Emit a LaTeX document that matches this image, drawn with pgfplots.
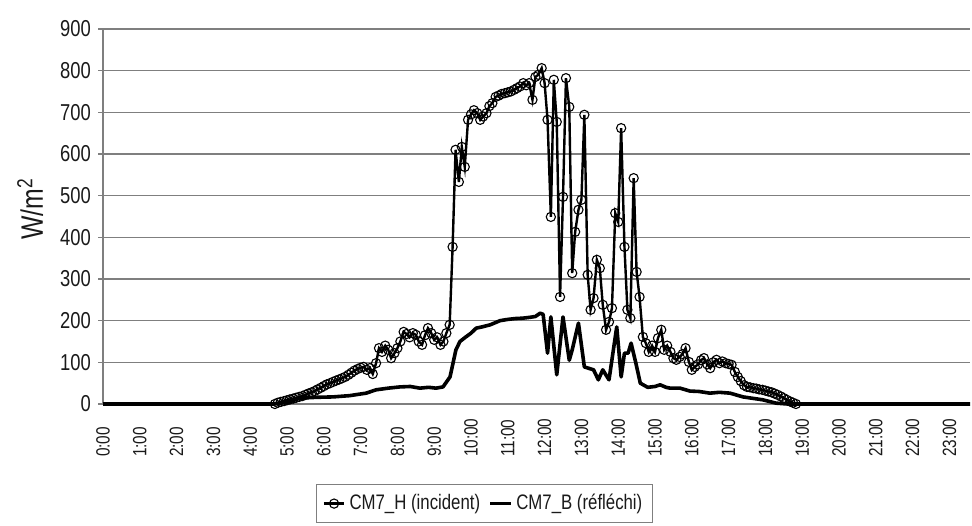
\documentclass[border=0pt]{standalone}
\usepackage{fontspec}
\setmainfont{Liberation Sans}[FakeStretch=0.8]
\usepackage{pgfplots}
\pgfplotsset{compat=1.18}
\definecolor{gridc}{HTML}{7F7F7F}
\definecolor{txt}{HTML}{1A1A1A}
\begin{document}
\begin{tikzpicture}
\begin{axis}[
  scale only axis, width=433.5pt, height=187.5pt,
  xmin=0, xmax=23.56, ymin=0, ymax=900,
  clip=false,
  axis y line*=left, axis x line*=bottom,
  axis line style={gridc, line width=0.6pt},
  ytick={0,100,...,900},
  ymajorgrids, grid style={gridc, line width=0.6pt},
  xtick={0,...,23},
  xticklabels={0:00,1:00,2:00,3:00,4:00,5:00,6:00,7:00,8:00,9:00,10:00,11:00,12:00,13:00,14:00,15:00,16:00,17:00,18:00,19:00,20:00,21:00,22:00,23:00},
  xtick style={draw=none},
  ytick style={gridc, line width=0.6pt},
  tick align=outside, major tick length=2.5pt,
  /pgf/number format/assume math mode=true,
  yticklabel style={font=\fontsize{11.5}{13}\selectfont, text=txt},
  xticklabel style={yshift=-27.5pt, rotate=90, anchor=west, font=\fontsize{9.6}{11}\selectfont, text=txt},
  ylabel={W/m\textsuperscript{2}},
  every axis y label/.append style={at={(rel axis cs:-0.084,0.52)}, anchor=center, font=\fontsize{15.5}{17}\selectfont, text=txt},
  legend style={at={(rel axis cs:0.44,-0.213)}, anchor=north, legend columns=2,
    draw=gridc, line width=0.5pt, font=\fontsize{10.5}{12}\selectfont, text=txt, inner sep=3pt,
    /tikz/every even column/.append style={column sep=2pt}},
  legend image code/.code={\draw[mark repeat=2,mark phase=2,#1] plot coordinates {(0cm,0cm) (0.18cm,0cm) (0.36cm,0cm)};},
]
\path (rel axis cs:-0.1188,-0.3253) rectangle (rel axis cs:1.0023,1.0773);
\addplot[black, line width=1.2pt, mark=o, mark size=2.3pt, mark options={fill=white, line width=0.55pt}] coordinates {
(4.67,0)(4.75,3)(4.83,5)(4.92,7)(5.00,9)(5.08,11)(5.17,13)(5.25,15)(5.33,17)(5.42,19)
(5.50,22)(5.58,25)(5.67,28)(5.75,31)(5.83,35)(5.92,39)(6.00,43)(6.08,47)(6.17,50)(6.25,53)
(6.33,56)(6.42,59)(6.50,62)(6.58,65)(6.67,70)(6.75,75)(6.83,80)(6.92,84)(7.00,87)(7.08,89)
(7.17,82)(7.25,86)(7.33,72)(7.42,98)(7.50,134)(7.58,125)(7.67,140)(7.75,130)(7.83,110)(7.92,122)
(8.00,134)(8.08,150)(8.17,173)(8.25,168)(8.33,160)(8.42,170)(8.50,166)(8.58,150)(8.67,142)(8.75,165)
(8.83,182)(8.92,170)(9.00,154)(9.08,160)(9.17,142)(9.25,150)(9.33,170)(9.42,190)(9.50,377)(9.58,610)
(9.67,533)(9.75,617)(9.83,569)(9.92,682)(10.00,695)(10.08,705)(10.17,698)(10.25,682)(10.33,690)(10.42,698)
(10.50,715)(10.58,722)(10.67,737)(10.75,740)(10.83,744)(10.92,746)(11.00,748)(11.08,750)(11.17,754)(11.25,758)
(11.33,762)(11.42,770)(11.50,765)(11.58,770)(11.67,730)(11.75,785)(11.83,790)(11.92,806)(12.00,770)(12.08,682)
(12.17,449)(12.25,778)(12.33,677)(12.42,257)(12.50,497)(12.58,782)(12.67,713)(12.75,314)(12.83,413)(12.92,466)
(13.00,490)(13.08,694)(13.17,310)(13.25,226)(13.33,254)(13.42,346)(13.50,326)(13.58,238)(13.67,178)(13.75,197)
(13.83,230)(13.92,458)(14.00,437)(14.08,662)(14.17,377)(14.25,226)(14.33,206)(14.42,542)(14.50,317)(14.58,257)
(14.67,161)(14.75,146)(14.83,125)(14.92,140)(15.00,125)(15.08,158)(15.17,178)(15.25,130)(15.33,140)(15.42,125)
(15.50,110)(15.58,106)(15.67,113)(15.75,120)(15.83,134)(15.92,101)(16.00,82)(16.08,89)(16.17,95)(16.25,105)
(16.33,110)(16.42,95)(16.50,86)(16.58,100)(16.67,106)(16.75,98)(16.83,102)(16.92,98)(17.00,96)(17.08,94)
(17.17,77)(17.25,65)(17.33,55)(17.42,45)(17.50,41)(17.58,40)(17.67,38)(17.75,37)(17.83,35)(17.92,34)
(18.00,32)(18.08,30)(18.17,28)(18.25,25)(18.33,22)(18.42,18)(18.50,14)(18.58,10)(18.67,6)(18.75,3)(18.83,0)
};
\addlegendentry{CM7\_H (incident)}
\addplot[black, line width=1.8pt, line join=round] coordinates {
(0,0)(4.67,0)(5.00,5)(5.35,14)(5.80,16)(6.25,17)(6.70,20)(7.15,26)(7.42,34)(7.75,38)
(8.07,41)(8.35,42)(8.61,38)(8.85,40)(9.05,38)(9.24,41)(9.43,65)(9.59,130)(9.70,150)(9.86,161)
(10.00,170)(10.14,182)(10.30,185)(10.52,190)(10.79,200)(11.00,203)(11.20,205)(11.41,206)(11.60,208)(11.75,210)
(11.88,218)(11.96,215)(12.08,122)(12.17,209)(12.33,70)(12.50,209)(12.67,105)(12.75,130)(12.92,194)(13.08,89)
(13.33,82)(13.46,58)(13.58,82)(13.75,58)(13.96,185)(14.08,65)(14.17,122)(14.27,122)(14.35,146)(14.48,98)
(14.60,50)(14.80,40)(15.00,42)(15.14,46)(15.30,40)(15.41,38)(15.68,38)(15.95,31)(16.20,30)(16.49,26)
(16.75,28)(17.04,26)(17.39,17)(17.70,13)(17.93,10)(18.29,2)(18.60,0)(23.56,0)
};
\addlegendentry{CM7\_B (réfléchi)}
\end{axis}
\end{tikzpicture}
\end{document}
